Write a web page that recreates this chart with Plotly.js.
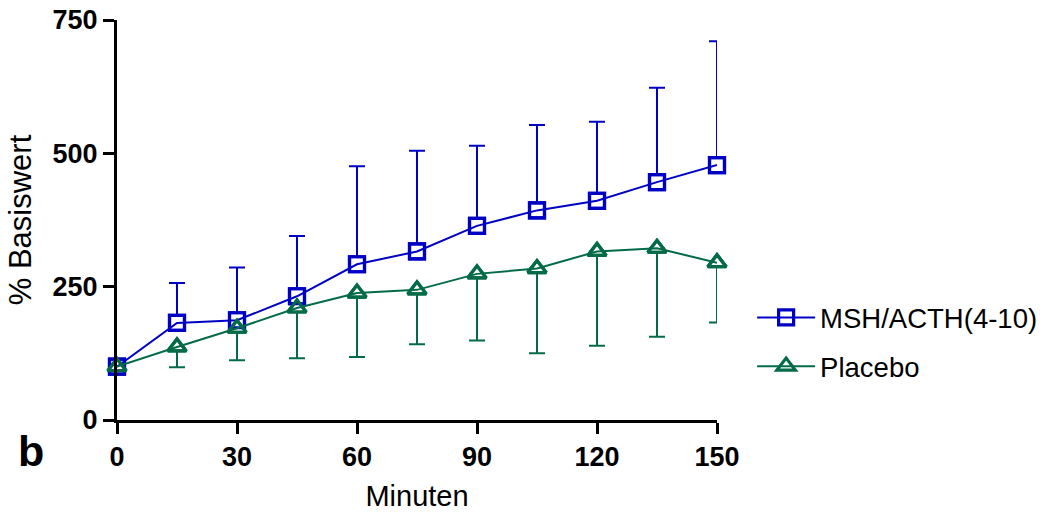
<!DOCTYPE html>
<html>
<head>
<meta charset="utf-8">
<script src="https://cdn.plot.ly/plotly-3.0.1.min.js"></script>
<style>html,body{margin:0;padding:0;background:#fff;}#chart{width:1051px;height:512px;}</style>
</head>
<body>
<div id="chart"></div>
<script>
var minutes = [0, 15, 30, 45, 60, 75, 90, 105, 120, 135, 150];
var mshMean = [100, 182, 187, 232, 292, 316, 364, 393, 411, 446, 478];
var mshErrUp = [0, 75, 99, 113, 184, 189, 150, 160, 148, 177, 232];
var placeboMean = [100, 137, 172, 210, 238, 244, 274, 284, 316, 322, 295];
var placeboErrDown = [0, 38, 60, 94, 120, 102, 125, 159, 177, 166, 112];
var zeros = minutes.map(function(){ return 0; });
var xTicks = [0, 30, 60, 90, 120, 150];
var yTicks = [0, 250, 500, 750];

var blue = '#0000c4';
var green = '#036b47';
var font = '"Liberation Sans", Arial, Helvetica, sans-serif';

var traces = [
  {
    x: minutes, y: mshMean, type: 'scatter', mode: 'markers',
    legendgroup: 'msh', showlegend: false, hoverinfo: 'skip', cliponaxis: false,
    marker: {symbol: 'square', size: 15, color: '#ffffff', line: {color: blue, width: 3.2}},
    error_y: {type: 'data', symmetric: false, array: mshErrUp, arrayminus: zeros,
              color: blue, thickness: 2, width: 8}
  },
  {
    x: minutes, y: placeboMean, type: 'scatter', mode: 'markers',
    legendgroup: 'pla', showlegend: false, hoverinfo: 'skip', cliponaxis: false,
    marker: {symbol: 'triangle-up', size: 16, color: '#ffffff', line: {color: green, width: 3.2}},
    error_y: {type: 'data', symmetric: false, array: zeros, arrayminus: placeboErrDown,
              color: green, thickness: 2, width: 8}
  },
  {
    x: minutes, y: mshMean, type: 'scatter', mode: 'lines+markers',
    name: 'MSH/ACTH(4-10)', legendgroup: 'msh', cliponaxis: false,
    line: {color: blue, width: 2},
    marker: {symbol: 'square-open', size: 15, color: blue, line: {color: blue, width: 3.2}}
  },
  {
    x: minutes, y: placeboMean, type: 'scatter', mode: 'lines+markers',
    name: 'Placebo', legendgroup: 'pla', cliponaxis: false,
    line: {color: green, width: 2},
    marker: {symbol: 'triangle-up-open', size: 16, color: green, line: {color: green, width: 3.2}}
  }
];

var layout = {
  width: 1051, height: 512,
  margin: {l: 117, r: 0, t: 20, b: 92, pad: 0},
  paper_bgcolor: '#ffffff', plot_bgcolor: '#ffffff',
  font: {family: font, color: '#000000'},
  showlegend: true,
  legend: {
    x: 0.680, xanchor: 'left', y: 0.195, yanchor: 'middle',
    font: {family: font, size: 27.5, color: '#000000'},
    itemwidth: 58,
    traceorder: 'grouped', tracegroupgap: 10,
    bgcolor: 'rgba(0,0,0,0)', borderwidth: 0
  },
  xaxis: {
    domain: [0, 600 / 934],
    range: [0, 150], tickvals: xTicks, ticktext: xTicks.map(String),
    showline: true, linecolor: '#000000', linewidth: 3,
    ticks: 'outside', ticklen: 11, tickwidth: 3, tickcolor: '#000000',
    showgrid: false, zeroline: false,
    tickfont: {family: font, size: 27, weight: 'bold', color: '#000000'},
    title: {text: 'Minuten', font: {family: font, size: 29, color: '#000000'}, standoff: 15}
  },
  yaxis: {
    range: [0, 750], tickvals: yTicks, ticktext: yTicks.map(String),
    showline: true, linecolor: '#000000', linewidth: 3,
    ticks: 'outside', ticklen: 11, tickwidth: 3, tickcolor: '#000000',
    showgrid: false, zeroline: false,
    tickfont: {family: font, size: 27, weight: 'bold', color: '#000000'},
    title: {text: '% Basiswert', font: {family: font, size: 31, color: '#000000'}, standoff: 12}
  },
  annotations: [{
    text: 'b', xref: 'paper', yref: 'paper', x: -0.092, y: -0.078,
    xanchor: 'center', yanchor: 'middle', showarrow: false,
    font: {family: font, size: 43, weight: 'bold', color: '#000000'}
  }]
};

Plotly.newPlot('chart', traces, layout, {displayModeBar: false, staticPlot: true});
</script>
</body>
</html>
